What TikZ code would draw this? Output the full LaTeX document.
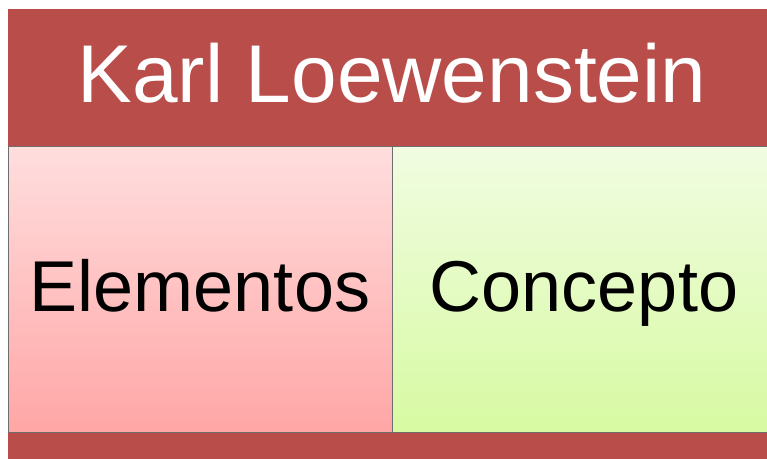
\documentclass[tikz,border=0pt]{standalone}
\usepackage{fontspec}
\setmainfont{Liberation Sans}
\definecolor{band}{RGB}{185,77,74}
\definecolor{pinktop}{RGB}{255,222,222}
\definecolor{pinkbot}{RGB}{255,166,166}
\definecolor{greentop}{RGB}{241,252,226}
\definecolor{greenbot}{RGB}{215,250,162}
\definecolor{edge}{RGB}{110,110,110}
\tikzset{
  bandbox/.style={fill=band, draw=none},
  labeltext/.style={font=\fontsize{72}{80}\selectfont, text=black, inner sep=0pt, anchor=base},
}
\begin{document}
\begin{tikzpicture}[x=1pt,y=-1pt]
\useasboundingbox (0,0) rectangle (767,458);
\fill[white] (0,0) rectangle (767,458);
\clip (0,0) rectangle (767,458);
% top band
\fill[bandbox] (8,9) rectangle (780,146);
% bottom band
\fill[bandbox] (8,431) rectangle (780,460);
% left box
\shade[top color=pinktop, bottom color=pinkbot, draw=edge, line width=1pt] (8,146) rectangle (392,432);
% right box
\shade[top color=greentop, bottom color=greenbot, draw=edge, line width=1pt] (392,146) rectangle (776,432);
\node[font=\fontsize{82}{90}\selectfont, text=white, inner sep=0pt, anchor=base] (title) at (392,102) {Karl Loewenstein};
\node[labeltext] (elem) at (200,311) {Elementos};
\node[labeltext] (conc) at (584,311) {Concepto};
\end{tikzpicture}
\end{document}
